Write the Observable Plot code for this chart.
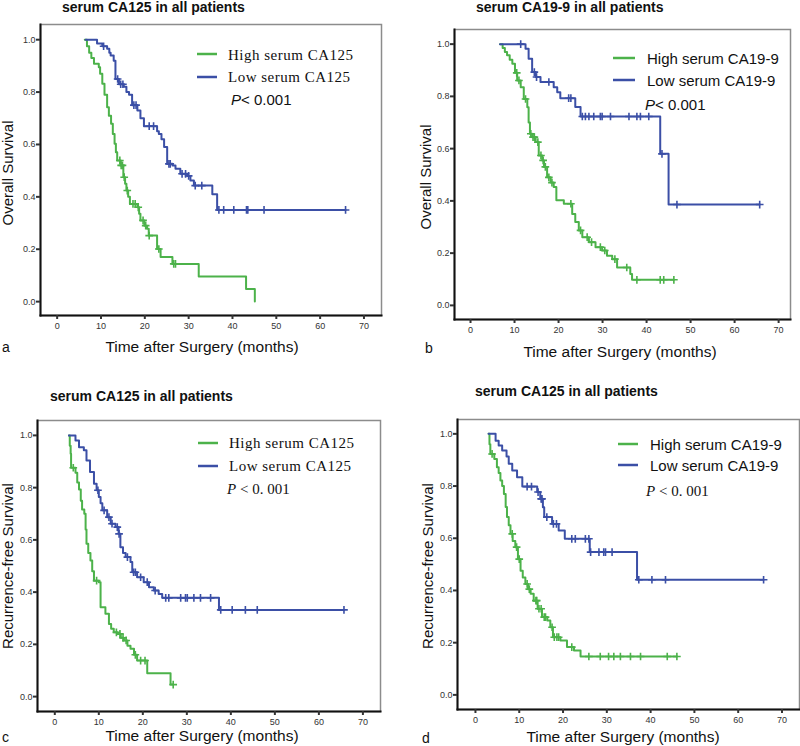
<!DOCTYPE html>
<html>
<head>
<meta charset="utf-8">
<script src="https://cdn.jsdelivr.net/npm/d3@7"></script>
<script src="https://cdn.jsdelivr.net/npm/@observablehq/plot@0.6"></script>
<style>
  html, body { margin: 0; padding: 0; background: #fff; }
  #wrap { position: relative; width: 800px; height: 746px; overflow: hidden; font-family: "Liberation Sans", Arial, sans-serif; }
  #wrap > svg.plot, #wrap > figure { position: absolute; margin: 0; }
  #overlay { position: absolute; left: 0; top: 0; pointer-events: none; }
</style>
</head>
<body>
<div id="wrap"></div>
<script>
// ---------------- DATA ----------------
const xTicks = [0, 10, 20, 30, 40, 50, 60, 70];
const yTicks = [0, 0.2, 0.4, 0.6, 0.8, 1.0];

const panelTitles = ["serum CA125 in all patients", "serum CA19-9 in all patients", "serum CA125 in all patients", "serum CA125 in all patients"];
const panelLetters = ["a", "b", "c", "d"];
const yLabels = ["Overall Survival", "Overall Survival", "Recurrence-free Survival", "Recurrence-free Survival"];
const xLabel = "Time after Surgery (months)";
const seriesNames125 = ["High serum CA125", "Low serum CA125"];
const seriesNames199 = ["High serum CA19-9", "Low serum CA19-9"];
const pText = ["< 0.001", "< 0.001", "< 0. 001", "< 0. 001"];

// Panel a: overall survival, CA125
const aHighT = [6.3, 6.8, 7.3, 7.8, 8.4, 9.5, 9.8, 10.3, 10.8, 11.4, 11.8, 12.3, 12.7, 13.1, 13.4, 13.7, 14.5, 15.1, 15.5, 15.8, 16.2, 16.6, 18.3, 18.7, 19.0, 19.9, 20.5, 20.9, 22.8, 23.6, 26.3, 32.3, 43.1, 45.1];
const aHighS = [1.0, 0.975, 0.95, 0.93, 0.908, 0.895, 0.87, 0.832, 0.79, 0.742, 0.71, 0.679, 0.64, 0.603, 0.57, 0.539, 0.52, 0.475, 0.45, 0.424, 0.40, 0.373, 0.36, 0.335, 0.31, 0.29, 0.278, 0.252, 0.201, 0.17, 0.144, 0.096, 0.048, 0.0];
const aHighC = [14.3, 14.6, 14.9, 15.3, 16.0, 17.3, 17.8, 18.5, 19.6, 20.2, 21.0, 23.2, 26.6, 27.0];
const aLowT = [6.5, 9.1, 10.3, 11.4, 11.9, 12.2, 12.9, 13.3, 14.1, 15.2, 15.8, 16.4, 17.1, 18.3, 19.0, 19.8, 22.8, 23.2, 23.8, 24.4, 25.1, 26.3, 27.0, 28.1, 29.7, 30.4, 31.2, 35.4, 36.5, 65.8];
const aLowS = [1.0, 0.985, 0.975, 0.965, 0.95, 0.94, 0.92, 0.85, 0.83, 0.82, 0.80, 0.79, 0.75, 0.73, 0.70, 0.67, 0.65, 0.64, 0.62, 0.59, 0.526, 0.52, 0.507, 0.488, 0.48, 0.462, 0.443, 0.41, 0.35, 0.35];
const aLowC = [10.6, 13.8, 14.5, 15.0, 17.5, 18.0, 21.0, 22.0, 25.5, 25.8, 28.5, 29.3, 30.0, 31.5, 33.0, 36.9, 38.0, 40.3, 43.2, 43.5, 47.2, 65.8];

// Panel b: overall survival, CA19-9
const bHighT = [6.7, 7.3, 7.8, 8.3, 8.9, 9.5, 10.1, 10.6, 11.4, 12.1, 12.9, 13.2, 13.5, 14.0, 14.8, 15.5, 16.3, 16.7, 17.4, 18.2, 18.9, 19.5, 21.2, 23.1, 23.8, 24.6, 25.4, 26.9, 28.4, 29.9, 31.0, 32.2, 33.3, 36.3, 36.7, 46.2];
const bHighS = [1.0, 0.985, 0.97, 0.957, 0.94, 0.925, 0.89, 0.861, 0.835, 0.79, 0.758, 0.70, 0.657, 0.644, 0.625, 0.574, 0.555, 0.53, 0.49, 0.47, 0.453, 0.402, 0.389, 0.35, 0.319, 0.287, 0.261, 0.242, 0.223, 0.21, 0.19, 0.177, 0.145, 0.12, 0.098, 0.098];
const bHighC = [10.5, 11.0, 12.5, 13.7, 14.2, 14.5, 15.3, 16.0, 16.5, 17.0, 17.8, 18.5, 22.8, 25.0, 26.5, 27.5, 29.5, 30.5, 32.8, 35.5, 37.8, 43.1, 43.9, 46.2];
const bLowT = [6.7, 12.5, 13.2, 14.0, 14.8, 15.9, 18.9, 19.7, 20.4, 23.8, 25.0, 43.1, 45.0, 65.7];
const bLowS = [1.0, 0.982, 0.944, 0.893, 0.874, 0.855, 0.835, 0.816, 0.793, 0.759, 0.723, 0.58, 0.386, 0.386];
const bLowC = [11.4, 14.5, 15.0, 17.8, 22.3, 22.8, 25.4, 26.1, 26.9, 28.0, 29.5, 29.9, 31.8, 36.0, 37.8, 38.6, 40.5, 43.5, 46.9, 65.7];

// Panel c: recurrence-free survival, CA125
const cHighT = [3.2, 3.4, 3.6, 3.7, 4.7, 5.1, 5.5, 5.9, 6.2, 6.7, 7.0, 7.2, 7.6, 8.1, 8.5, 8.9, 10.0, 10.4, 11.5, 12.3, 12.8, 13.4, 14.2, 15.0, 15.7, 16.5, 17.2, 18.0, 18.7, 21.0, 26.3, 26.9];
const cHighS = [1.0, 0.96, 0.93, 0.876, 0.857, 0.82, 0.793, 0.75, 0.716, 0.70, 0.64, 0.585, 0.55, 0.521, 0.48, 0.444, 0.438, 0.342, 0.317, 0.278, 0.26, 0.246, 0.24, 0.225, 0.215, 0.195, 0.183, 0.16, 0.138, 0.089, 0.046, 0.046];
const cHighC = [4.2, 9.5, 14.0, 14.8, 15.5, 16.2, 18.3, 19.5, 20.5, 26.9];
const cLowT = [3.2, 4.7, 5.5, 6.6, 7.2, 8.0, 8.9, 9.5, 10.0, 10.4, 10.8, 11.9, 12.7, 13.8, 14.5, 14.9, 15.5, 16.1, 17.2, 17.6, 18.7, 20.2, 21.4, 22.5, 23.6, 24.4, 37.3, 65.7];
const cLowS = [1.0, 0.98, 0.955, 0.943, 0.904, 0.86, 0.815, 0.79, 0.764, 0.74, 0.713, 0.687, 0.662, 0.649, 0.623, 0.572, 0.55, 0.534, 0.515, 0.476, 0.457, 0.438, 0.419, 0.406, 0.393, 0.378, 0.332, 0.332];
const cLowC = [9.8, 11.2, 12.3, 13.0, 14.2, 14.6, 16.5, 17.9, 18.3, 19.5, 21.0, 22.8, 25.2, 25.9, 28.6, 29.7, 30.1, 31.6, 33.1, 35.4, 37.7, 40.3, 43.3, 46.0, 65.7];

// Panel d: recurrence-free survival, CA19-9
const dHighT = [3.0, 3.2, 3.4, 4.3, 4.9, 5.3, 5.7, 6.1, 6.5, 6.9, 7.2, 7.6, 8.0, 8.5, 9.1, 9.7, 10.3, 10.8, 11.4, 12.0, 12.6, 13.3, 14.2, 15.2, 16.4, 17.1, 17.7, 19.4, 20.9, 22.5, 24.0, 46.0];
const dHighS = [1.0, 0.96, 0.923, 0.904, 0.872, 0.85, 0.821, 0.80, 0.77, 0.72, 0.681, 0.65, 0.617, 0.59, 0.566, 0.52, 0.476, 0.45, 0.425, 0.405, 0.387, 0.361, 0.33, 0.298, 0.285, 0.259, 0.221, 0.208, 0.183, 0.17, 0.147, 0.147];
const dHighC = [3.8, 8.4, 9.4, 10.0, 11.8, 12.3, 13.8, 14.0, 14.5, 15.0, 15.7, 16.0, 17.5, 18.0, 18.6, 19.0, 22.0, 25.9, 28.5, 30.4, 31.6, 33.1, 35.4, 37.7, 43.8, 46.0];
const dLowT = [3.0, 4.6, 5.3, 6.1, 7.1, 7.6, 8.4, 9.5, 10.7, 14.1, 14.8, 15.4, 15.7, 17.5, 19.0, 20.4, 26.1, 36.9, 65.8];
const dLowS = [1.0, 0.974, 0.955, 0.936, 0.913, 0.885, 0.86, 0.834, 0.798, 0.777, 0.751, 0.719, 0.681, 0.655, 0.63, 0.598, 0.547, 0.441, 0.441];
const dLowC = [11.8, 12.8, 14.3, 15.0, 15.2, 16.3, 17.8, 18.5, 22.0, 22.8, 25.1, 25.9, 26.3, 28.2, 29.3, 29.7, 31.2, 37.3, 40.3, 43.4, 65.8];

// ---------------- STYLE ----------------
const GREEN = "#4cb24a";
const BLUE = "#3b4fa6";

// ---------------- BUILD ----------------
const curve = (T, S) => T.map((t, i) => ({t, s: S[i]}));
const censor = (C, T, S) => C.map(c => {
  let k = 0;
  for (let i = 0; i < T.length; i++) if (T[i] <= c) k = i;
  return {t: c, s: S[k]};
});

const panels = [
  {left: 0, top: 0, w: 400, h: 340, ml: 40, mt: 24, mr: 19, mb: 25, xd: [-3.8, 74.0], yd: [-0.053, 1.058],
   hi: [aHighT, aHighS, aHighC], lo: [aLowT, aLowS, aLowC]},
  {left: 400, top: 0, w: 400, h: 340, ml: 54, mt: 29, mr: 10, mb: 21, xd: [-3.64, 72.7], yd: [-0.054, 1.056],
   hi: [bHighT, bHighS, bHighC], lo: [bLowT, bLowS, bLowC]},
  {left: 0, top: 380, w: 400, h: 355, ml: 37, mt: 40, mr: 20, mb: 24, xd: [-3.93, 74.0], yd: [-0.057, 1.057],
   hi: [cHighT, cHighS, cHighC], lo: [cLowT, cLowS, cLowC]},
  {left: 400, top: 380, w: 400, h: 355, ml: 57, mt: 39, mr: 1, mb: 26, xd: [-4.1, 74.0], yd: [-0.056, 1.055],
   hi: [dHighT, dHighS, dHighC], lo: [dLowT, dLowS, dLowC]}
];

const wrap = document.getElementById("wrap");

panels.forEach(p => {
  const hi = curve(p.hi[0], p.hi[1]);
  const lo = curve(p.lo[0], p.lo[1]);
  const hiC = censor(p.hi[2], p.hi[0], p.hi[1]);
  const loC = censor(p.lo[2], p.lo[0], p.lo[1]);
  const chart = Plot.plot({
    width: p.w, height: p.h,
    marginLeft: p.ml, marginTop: p.mt, marginRight: p.mr, marginBottom: p.mb,
    x: {domain: p.xd},
    y: {domain: p.yd},
    style: {fontFamily: "'Liberation Sans', Arial, sans-serif", background: "transparent", overflow: "visible"},
    marks: [
      Plot.frame({stroke: "#8c8c8c", strokeWidth: 1.5}),
      Plot.frame({anchor: "left", stroke: "#111", strokeWidth: 2}),
      Plot.frame({anchor: "bottom", stroke: "#111", strokeWidth: 2}),
      Plot.axisX({ticks: xTicks, tickFormat: d3.format("d"), tickSize: 4, tickPadding: 3, fontSize: 9, strokeWidth: 2, color: "#333", label: null}),
      Plot.axisY({ticks: yTicks, tickFormat: d3.format(".1f"), tickSize: 4, tickPadding: 1, fontSize: 9, strokeWidth: 2, color: "#333", label: null}),
      Plot.line(hi, {x: "t", y: "s", curve: "step-after", stroke: GREEN, strokeWidth: 2}),
      Plot.line(lo, {x: "t", y: "s", curve: "step-after", stroke: BLUE, strokeWidth: 2}),
      Plot.dot(hiC, {x: "t", y: "s", symbol: "plus", r: 2.6, stroke: GREEN, strokeWidth: 1.6}),
      Plot.dot(loC, {x: "t", y: "s", symbol: "plus", r: 2.6, stroke: BLUE, strokeWidth: 1.6})
    ]
  });
  chart.style.position = "absolute";
  chart.style.left = p.left + "px";
  chart.style.top = p.top + "px";
  wrap.appendChild(chart);
});

// ---------------- TEXT OVERLAY ----------------
const NS = "http://www.w3.org/2000/svg";
const ov = document.createElementNS(NS, "svg");
ov.setAttribute("id", "overlay");
ov.setAttribute("width", 800);
ov.setAttribute("height", 746);
wrap.appendChild(ov);

function txt(str, x, y, opts = {}) {
  const t = document.createElementNS(NS, "text");
  t.setAttribute("x", x);
  t.setAttribute("y", y);
  t.setAttribute("font-family", opts.family || "'Liberation Sans', Arial, sans-serif");
  t.setAttribute("font-size", opts.size || 15);
  t.setAttribute("fill", opts.fill || "#111");
  if (opts.weight) t.setAttribute("font-weight", opts.weight);
  if (opts.anchor) t.setAttribute("text-anchor", opts.anchor);
  if (opts.spacing) t.setAttribute("letter-spacing", opts.spacing);
  if (opts.rotate) t.setAttribute("transform", `rotate(-90 ${x} ${y})`);
  t.textContent = str;
  ov.appendChild(t);
  return t;
}
function seg(x1, x2, y, color) {
  const l = document.createElementNS(NS, "line");
  l.setAttribute("x1", x1); l.setAttribute("x2", x2);
  l.setAttribute("y1", y); l.setAttribute("y2", y);
  l.setAttribute("stroke", color); l.setAttribute("stroke-width", 2.5);
  ov.appendChild(l);
}
function pval(x, y, rest, serif) {
  const fam = serif ? "'Liberation Serif', 'Times New Roman', serif" : "'Liberation Sans', Arial, sans-serif";
  const t = txt("", x, y, {family: fam, size: 15});
  const a = document.createElementNS(NS, "tspan");
  a.setAttribute("font-style", "italic");
  a.textContent = "P";
  const b = document.createElementNS(NS, "tspan");
  b.textContent = serif ? " " + rest : rest;
  t.appendChild(a); t.appendChild(b);
}

// Titles
txt(panelTitles[0], 62, 12, {size: 14, weight: "bold"});
txt(panelTitles[1], 476, 12, {size: 14, weight: "bold"});
txt(panelTitles[2], 50, 401, {size: 14, weight: "bold"});
txt(panelTitles[3], 475, 396, {size: 14, weight: "bold"});

// Y labels
txt(yLabels[0], 13, 173, {anchor: "middle", rotate: true});
txt(yLabels[1], 431, 177, {anchor: "middle", rotate: true});
txt(yLabels[2], 13, 566, {anchor: "middle", rotate: true});
txt(yLabels[3], 433, 566, {anchor: "middle", rotate: true});

// X labels
txt(xLabel, 202, 352, {anchor: "middle", size: 15.5});
txt(xLabel, 620, 357, {anchor: "middle", size: 15.5});
txt(xLabel, 202, 741, {anchor: "middle", size: 15.5});
txt(xLabel, 623, 742, {anchor: "middle", size: 15.5});

// Panel letters
txt(panelLetters[0], 2, 352, {size: 14});
txt(panelLetters[1], 425, 353, {size: 14});
txt(panelLetters[2], 2, 742, {size: 14});
txt(panelLetters[3], 422, 743, {size: 14});

// Legends
const serifFam = "'Liberation Serif', 'Times New Roman', serif";
// a
seg(197, 217, 54, GREEN); seg(197, 217, 77, BLUE);
txt(seriesNames125[0], 228, 60, {family: serifFam, size: 15, spacing: 0.5});
txt(seriesNames125[1], 228, 82, {family: serifFam, size: 15, spacing: 0.5});
pval(231, 105, pText[0], false);
// b
seg(613, 635, 58, GREEN); seg(613, 635, 80, BLUE);
txt(seriesNames199[0], 647, 64, {size: 15});
txt(seriesNames199[1], 647, 86, {size: 15});
pval(645, 110, pText[1], false);
// c
seg(198, 218, 443, GREEN); seg(198, 218, 466, BLUE);
txt(seriesNames125[0], 229, 448, {family: serifFam, size: 15, spacing: 0.5});
txt(seriesNames125[1], 229, 471, {family: serifFam, size: 15, spacing: 0.5});
pval(227, 494, pText[2], true);
// d
seg(618, 638, 444, GREEN); seg(618, 638, 465, BLUE);
txt(seriesNames199[0], 650, 450, {size: 15});
txt(seriesNames199[1], 650, 471, {size: 15});
pval(646, 496, pText[3], true);
</script>
</body>
</html>
